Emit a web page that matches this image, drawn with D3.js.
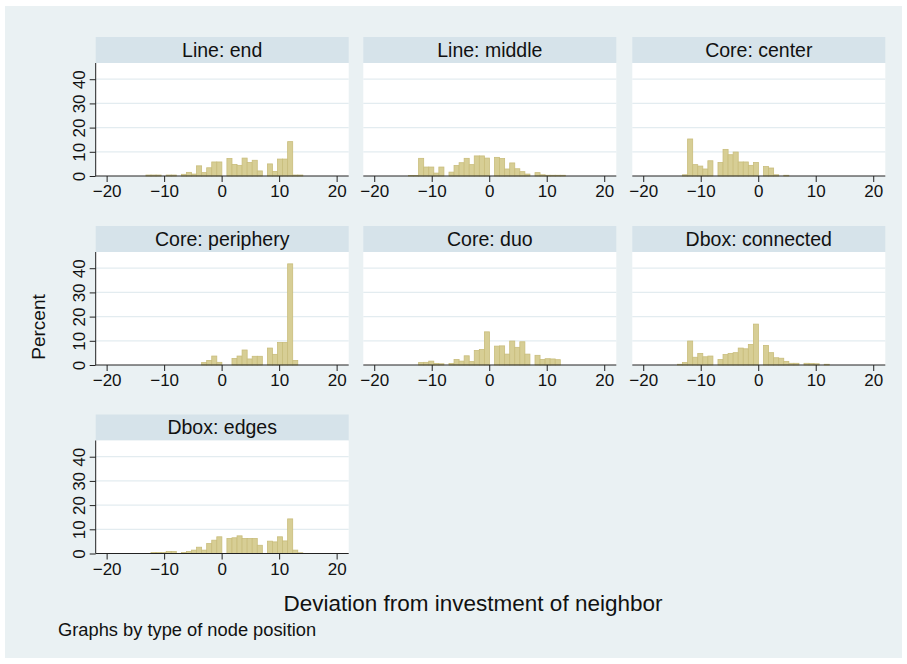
<!DOCTYPE html>
<html><head><meta charset="utf-8">
<script src="https://cdn.jsdelivr.net/npm/d3@7"></script>
<style>body{margin:0;background:#fff} text{font-family:"Liberation Sans",Arial,sans-serif;fill:#111}</style>
</head><body><svg id="c" width="907" height="664"></svg>
<script>
// ---------- data ----------
const panelNames = ["Line: end","Line: middle","Core: center","Core: periphery","Core: duo","Dbox: connected","Dbox: edges"];
// integer deviation values and the histogram bin each falls in (common bins, width 0.88)
const deviations = [-14,-13,-12,-11,-10,-9,-8,-7,-6,-5,-4,-3,-2,-1,0,1,2,3,4,5,6,7,8,9,10,11,12,13,14,15];
const binLow  = [-14.04,-13.16,-12.28,-11.40,-10.52,-9.64,-8.76,-7.00,-6.12,-5.24,-4.36,-3.48,-2.60,-1.72,-0.84,0.92,1.80,2.68,3.56,4.44,5.32,6.20,7.96,8.84,9.72,10.60,11.48,12.36,13.24,14.12];
const binHigh = [-13.16,-12.28,-11.40,-10.52,-9.64,-8.76,-7.88,-6.12,-5.24,-4.36,-3.48,-2.60,-1.72,-0.84,0.04,1.80,2.68,3.56,4.44,5.32,6.20,7.08,8.84,9.72,10.60,11.48,12.36,13.24,14.12,15.00];
// percent per bin, per panel
const lineEnd      = [0,0.4,0.4,0.4,0,0.4,0.4,0.7,1.5,0.8,4.2,1.4,3.4,5.8,5.8,7.2,4.8,4.4,7.4,5.6,6.5,2.1,5.0,1.9,7.0,7.0,14.2,0.4,0.4,0];
const lineMiddle   = [0.2,0.2,7.3,3.7,3.7,1.2,3.7,1.6,4.3,5.5,7.3,4.7,8.3,8.3,7.4,7.7,7.2,2.9,5.4,3.0,1.8,0.8,1.4,0.5,0.3,0.3,0.3,0.3,0,0];
const coreCenter   = [0,0.5,15.3,4.7,4.1,2.9,6.3,5.6,11.0,8.8,9.9,5.8,5.8,4.4,5.6,3.9,3.3,0.5,0,0.3,0,0,0,0,0,0,0,0,0,0];
const corePeriph   = [0,0,0,0,0,0,0,0,0,0,0,1.0,1.9,3.7,1.1,0,2.7,3.7,6.2,2.5,3.6,3.6,7.0,4.4,9.3,9.3,41.8,1.9,0,0];
const coreDuo      = [0,0,1.0,1.1,1.6,0.6,0.5,0.6,2.3,1.6,3.8,1.4,6.0,6.4,13.7,7.8,7.9,4.5,9.9,7.3,9.6,4.5,4.0,2.3,2.6,2.5,2.2,0,0,0];
const dboxConnect  = [0.3,1.0,9.9,3.2,4.8,3.4,3.7,2.3,4.3,4.8,5.1,7.0,6.7,8.5,16.9,8.1,5.1,3.0,2.8,1.5,0.7,0.7,0.7,0.6,0.5,0,0.3,0,0,0];
const dboxEdges    = [0,0,0.4,0.4,0.4,0.8,0.8,0.4,0.8,1.4,2.6,1.4,4.1,5.5,6.9,6.2,6.5,7.3,6.2,6.2,6.2,3.4,5.1,4.8,6.9,5.2,14.3,1.4,0.3,0];
const panelValues = [lineEnd,lineMiddle,coreCenter,corePeriph,coreDuo,dboxConnect,dboxEdges];
const xTicks = [-20,-10,0,10,20];
const yTicks = [0,10,20,30,40];
const xTitle = "Deviation from investment of neighbor";
const yTitle = "Percent";
const note = "Graphs by type of node position";

// ---------- layout ----------
const svg = d3.select("#c");
svg.append("rect").attr("x",5).attr("y",6).attr("width",897).attr("height",652).attr("fill","#eaf1f3");

const colX = [95.7, 363.3, 632.3];
const plotW = 253;
const baseY = [176, 365, 553.5];
const plotH = 113;
const headH = 26;

const x = d3.scaleLinear().domain([-21.9, 22.1]);
const y = d3.scaleLinear().domain([0, 46.7]);

panelNames.forEach((name, i) => {
  const col = i % 3, row = Math.floor(i / 3);
  const x0 = colX[col], yb = baseY[row], yt = yb - plotH;
  const xs = x.copy().range([x0, x0 + plotW]);
  const ys = y.copy().range([yb, yt]);
  const g = svg.append("g");
  g.append("rect").attr("x", x0).attr("y", yt - headH).attr("width", plotW).attr("height", headH).attr("fill", "#d6e3ea");
  g.append("text").attr("x", x0 + plotW / 2).attr("y", yt - headH / 2 + 6.5).attr("text-anchor", "middle")
    .style("font-size", "19.5px").text(name);
  g.append("rect").attr("x", x0).attr("y", yt).attr("width", plotW).attr("height", plotH).attr("fill", "#fff");
  g.selectAll(".grid").data(yTicks.filter(d => d > 0)).enter().append("line")
    .attr("x1", x0).attr("x2", x0 + plotW).attr("y1", d => ys(d)).attr("y2", d => ys(d))
    .attr("stroke", "#e3ecf0").attr("stroke-width", 1.2);
  const data = panelValues[i].map((v, k) => ({lo: binLow[k], hi: binHigh[k], v})).filter(d => d.v > 0);
  g.selectAll(".bar").data(data).enter().append("rect")
    .attr("x", d => xs(d.lo)).attr("width", d => xs(d.hi) - xs(d.lo))
    .attr("y", d => ys(d.v)).attr("height", d => ys(0) - ys(d.v))
    .attr("fill", "#d7ce95").attr("stroke", "#c9bd7c").attr("stroke-width", 0.8);
  const xa = g.append("g").attr("transform", `translate(0,${yb})`)
    .call(d3.axisBottom(xs).tickValues(xTicks).tickSize(6).tickPadding(3).tickFormat(d3.format("")));
  xa.select(".domain").attr("d", `M${x0},0H${x0 + plotW}`).attr("stroke", "#222");
  xa.selectAll(".tick line").attr("stroke", "#222");
  xa.selectAll("text").style("font-size", "17px").attr("fill", "#111");
  if (col === 0) {
    const ya = g.append("g").attr("transform", `translate(${x0},0)`)
      .call(d3.axisLeft(ys).tickValues(yTicks).tickSize(6).tickPadding(3));
    ya.select(".domain").attr("d", `M0,${yt}V${yb}`).attr("stroke", "#222");
    ya.selectAll(".tick line").attr("stroke", "#222");
    ya.selectAll(".tick text").style("font-size", "17px").attr("fill", "#111")
      .attr("transform", "rotate(-90)").attr("text-anchor", "middle")
      .attr("x", 0).attr("y", -11).attr("dy", "0");
  }
});

svg.append("text").attr("x", 473).attr("y", 611).attr("text-anchor", "middle").style("font-size", "22.5px").text(xTitle);
svg.append("text").attr("transform", "translate(45,327) rotate(-90)").attr("text-anchor", "middle").style("font-size", "19px").text(yTitle);
svg.append("text").attr("x", 58).attr("y", 636).style("font-size", "18.3px").text(note);
</script></body></html>
